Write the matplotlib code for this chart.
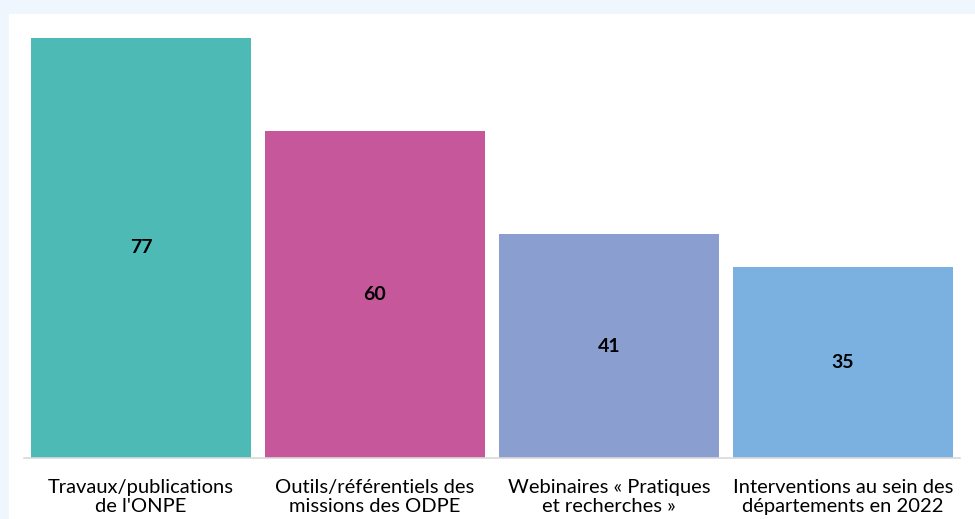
import matplotlib.pyplot as plt
from matplotlib.patches import Rectangle

categories = ["Travaux/publications\nde l'ONPE",
              "Outils/référentiels des\nmissions des ODPE",
              "Webinaires « Pratiques\net recherches »",
              "Interventions au sein des\ndépartements en 2022"]
values = [77, 60, 41, 35]
colors = ["#4DBAB6", "#C6579A", "#8A9ECF", "#7BB1E0"]

W, H = 975, 519
fig = plt.figure(figsize=(W / 100, H / 100), dpi=100, facecolor="#EFF6FD")

# white panel inside the light blue frame
fig.patches.append(Rectangle((9 / W, 0), 1, (H - 14) / H, transform=fig.transFigure,
                             facecolor="white", edgecolor="none", zorder=-10))

ax = fig.add_axes([24 / W, 61 / H, (960 - 24) / W, (458 - 14) / H])
ax.set_facecolor("none")
ax.set_zorder(1)

x = range(len(values))
ax.bar(x, values, width=0.94, color=colors, zorder=2)

for i, v in enumerate(values):
    ax.text(i, v / 2, str(v), ha="center", va="center", fontsize=14,
            fontweight="bold", family="Lato", color="black")

ax.set_xlim(-0.5, 3.5)
ax.set_ylim(0, (458 - 14) / 5.455)
ax.set_xticks(list(x))
ax.set_xticklabels(categories, fontsize=14.5, family="Lato", color="black", linespacing=1.18)
ax.tick_params(axis="x", length=0, pad=15)
ax.set_yticks([])
for s in ["top", "left", "right"]:
    ax.spines[s].set_visible(False)
ax.spines["bottom"].set_color("#D9D9D9")
ax.spines["bottom"].set_linewidth(1.2)

fig.savefig("out.png", dpi=100, facecolor=fig.get_facecolor())
